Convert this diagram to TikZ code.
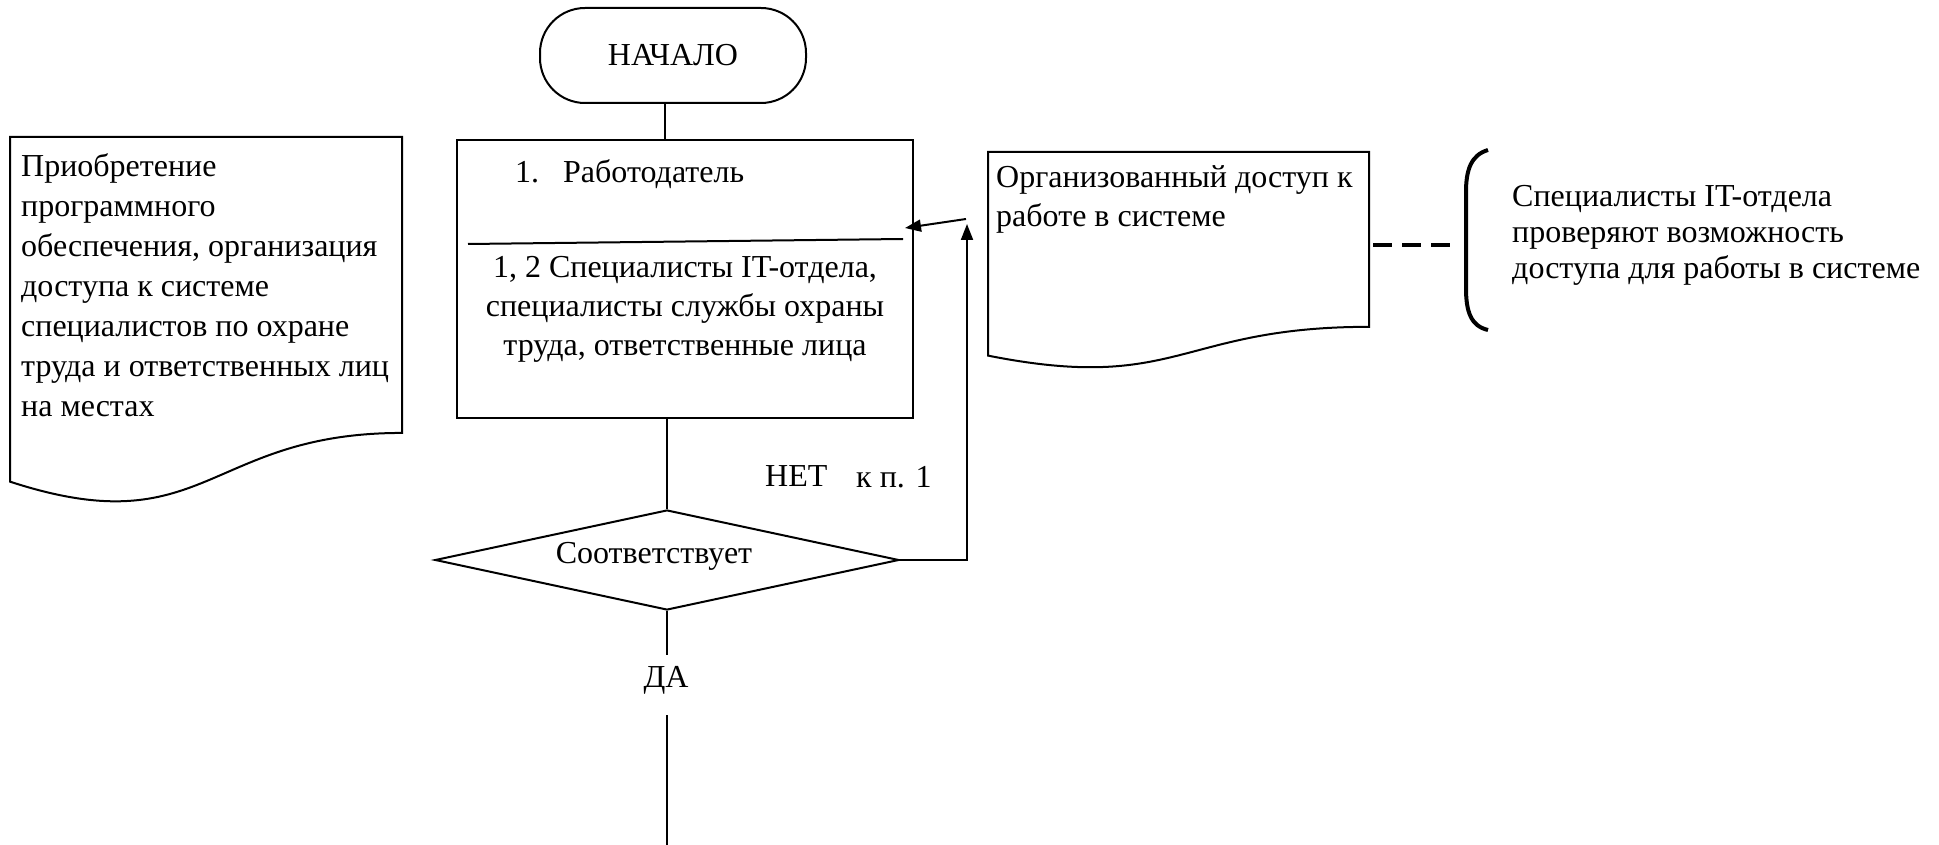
\documentclass[tikz,border=0pt]{standalone}
\usepackage{fontspec}
\setmainfont{Liberation Serif}
\usetikzlibrary{arrows.meta,shapes.geometric,calc}
\tikzset{
  ln/.style={line width=2pt, draw=black},
  arr/.style={ln, -{Triangle[length=16pt,width=12pt]}},
  txt/.style={inner sep=0pt, font=\fontsize{32}{40}\selectfont, align=left, anchor=base west},
  txtc/.style={inner sep=0pt, font=\fontsize{32}{39}\selectfont, align=center, anchor=base},
  boxframe/.style={ln, rectangle, inner sep=0pt},
}
\newcommand{\docshape}[4]{% x y w h
  \draw[ln] (#1,#2) -- ({#1+#3},#2) -- ({#1+#3},{#2+0.802*#4})
    .. controls ({#1+0.5*#3},{#2+0.802*#4}) and ({#1+0.5*#3},{#2+1.1075*#4}) .. (#1,{#2+0.934*#4}) -- cycle;}
\begin{document}
\begin{tikzpicture}[x=1pt,y=-1pt]
\useasboundingbox[fill=white] (0,0) rectangle (1939,845);

% terminal
\node[ln, draw, rounded corners=45pt, minimum width=266pt, minimum height=95pt, inner sep=0pt,
      font=\fontsize{32}{40}\selectfont] (term) at (673,55.5) {НАЧАЛО};

% task box
\node[boxframe, draw, minimum width=456pt, minimum height=278pt] (task) at (685,279) {};
\draw[ln] (468,244) -- (903,239);
\node[txt] (t1a) at (515,183) {1.};
\node[txt] (t1b) at (563,183) {Работодатель};
% multi-line nodes: base anchor = baseline of the last line
\node[txtc] (t2) at (685,355) {1, 2 Специалисты IT-отдела,\\специалисты службы охраны\\труда, ответственные лица};

% left document
\docshape{10}{137}{392}{369}
\node[txt] (ldoc) at (21,416) {Приобретение\\программного\\обеспечения, организация\\доступа к системе\\специалистов по охране\\труда и ответственных лиц\\на местах};

% right document
\docshape{988}{152}{381}{218}
\node[txt, font=\fontsize{32}{39}\selectfont] (rdoc) at (996,227) {Организованный доступ к\\работе в системе};

% dashed link and bracket
\coordinate (dA) at (1373,245);
\coordinate (dB) at (1450,245);
\draw[line width=4pt, dash pattern=on 19pt off 10pt] (dA) -- (dB);
\draw[line width=4pt] (1488,150) .. controls (1471,155) and (1466,170) .. (1466,192)
   -- (1466,288) .. controls (1466,312) and (1471,326) .. (1488,330);
\node[txt, font=\fontsize{32}{36}\selectfont] (note) at (1512,279) {Специалисты IT-отдела\\проверяют возможность\\доступа для работы в системе};

% diamond
\node[ln, draw, diamond, shape aspect=4.64, minimum width=464pt, minimum height=100pt, inner sep=0pt] (dia) at (667,560) {};
\node[txtc] (diatxt) at (654,563) {Соответствует};

% connectors
\coordinate (lx) at (665,0);
\draw[ln] (term.south -| lx) -- (task.north -| lx);
\draw[ln] (dia.north |- task.south) -- (dia.north);

\coordinate (nx) at (967,224);
\draw[arr] (dia.east) -- (dia.east -| nx) -- (nx);
\coordinate (aS) at (966,219);
\coordinate (aE) at (905,228);
\draw[arr] (aS) -- (aE);

\node[txt] (net) at (765,486) {НЕТ};
\node[txt] (kp) at (856,487) {к п. 1};

\coordinate (y1) at (667,655);
\coordinate (y2) at (667,715);
\coordinate (yend) at (667,845);
\draw[ln] (dia.south) -- (y1);
\node[txtc] (da) at (666,687) {ДА};
\draw[ln] (y2) -- (yend);
\end{tikzpicture}
\end{document}
